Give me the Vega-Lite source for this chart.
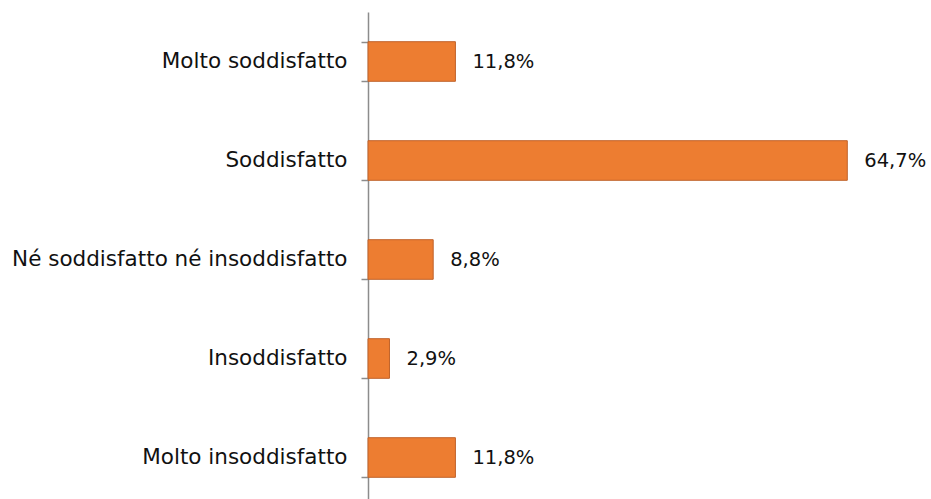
{
  "$schema": "https://vega.github.io/schema/vega-lite/v6.json",
  "width": 563,
  "height": 495,
  "autosize": {"type": "none"},
  "padding": {"left": 368, "top": 12, "right": 0, "bottom": 0},
  "background": "white",
  "config": {"view": {"stroke": null}},
  "data": {
    "values": [
      {"categoria": "Molto soddisfatto", "valore": 11.8, "etichetta": "11,8%"},
      {"categoria": "Soddisfatto", "valore": 64.7, "etichetta": "64,7%"},
      {"categoria": "Né soddisfatto né insoddisfatto", "valore": 8.8, "etichetta": "8,8%"},
      {"categoria": "Insoddisfatto", "valore": 2.9, "etichetta": "2,9%"},
      {"categoria": "Molto insoddisfatto", "valore": 11.8, "etichetta": "11,8%"}
    ]
  },
  "encoding": {
    "y": {
      "field": "categoria",
      "type": "nominal",
      "sort": null,
      "scale": {"paddingInner": 0.6, "paddingOuter": 0.3},
      "axis": {
        "title": null,
        "tickBand": "extent",
        "domainColor": "#8c8c8c",
        "domainWidth": 1.5,
        "tickColor": "#8c8c8c",
        "tickWidth": 1.5,
        "tickSize": 7,
        "labelPadding": 14,
        "labelFont": "DejaVu Sans",
        "labelFontSize": 21.5,
        "labelColor": "#111111",
        "labelLimit": 400
      }
    },
    "x": {
      "field": "valore",
      "type": "quantitative",
      "scale": {"domain": [0, 76], "nice": false},
      "axis": null
    }
  },
  "layer": [
    {
      "mark": {"type": "bar", "color": "#ED7D31", "stroke": "#C0622A", "strokeWidth": 1}
    },
    {
      "mark": {"type": "text", "align": "left", "baseline": "middle", "dx": 17, "font": "DejaVu Sans", "fontSize": 19.5, "color": "#111111"},
      "encoding": {"text": {"field": "etichetta"}}
    }
  ]
}
